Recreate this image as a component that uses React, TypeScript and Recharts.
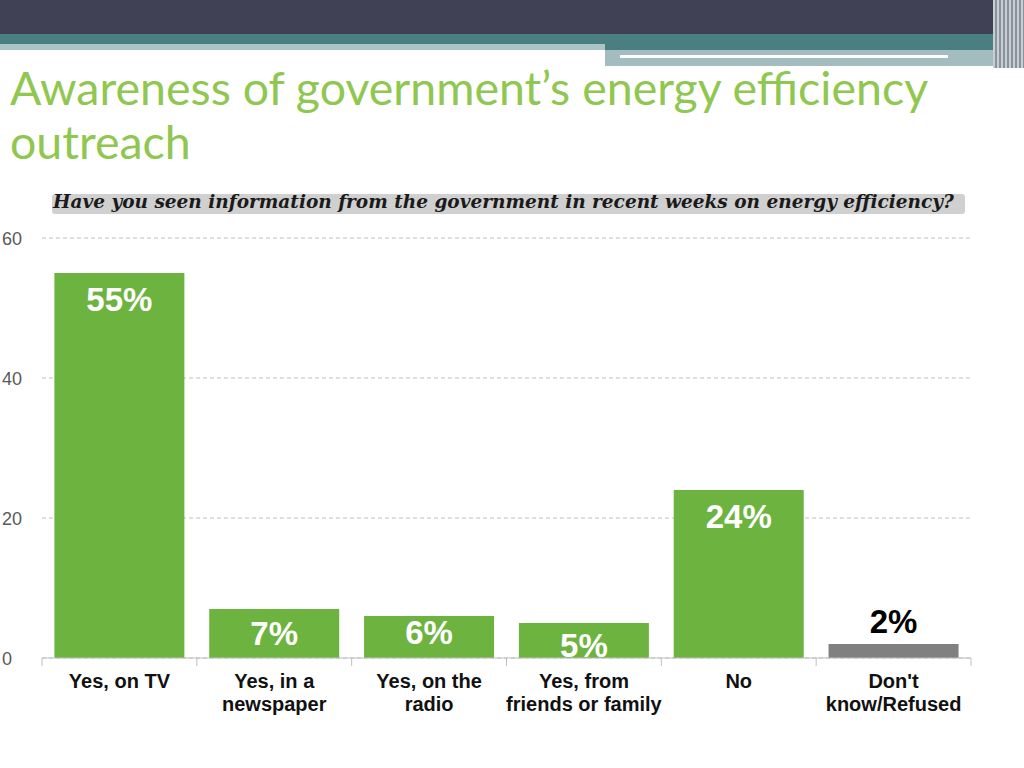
import { BarChart, Bar, XAxis, YAxis, CartesianGrid, Cell, LabelList } from "recharts";

const CATEGORIES = ["Yes, on TV", "Yes, in a\nnewspaper", "Yes, on the\nradio", "Yes, from\nfriends or family", "No", "Don't\nknow/Refused"];
const PERCENTS = [55, 7, 6, 5, 24, 2];
const Y_TICKS = [0, 20, 40, 60];

const DATA = CATEGORIES.map((name, i) => ({ name, value: PERCENTS[i] }));

const GREEN = "#6db33f";
const GRAY = "#808080";
const BAND = 929 / 6;

function XTick(props: any) {
  const { x, y, payload, index } = props;
  const lines = String(payload.value).split("\n");
  return (
    <g>
      <line x1={x - BAND / 2} x2={x - BAND / 2} y1={y - 8} y2={y} stroke="#bfbfbf" />
      {index === CATEGORIES.length - 1 && (
        <line x1={x + BAND / 2} x2={x + BAND / 2} y1={y - 8} y2={y} stroke="#bfbfbf" />
      )}
      <text x={x} y={y + 22} textAnchor="middle" fontFamily="Liberation Sans, Arial" fontWeight="bold" fontSize={20} fill="#111">
        {lines.map((l, i) => (
          <tspan key={i} x={x} dy={i === 0 ? 0 : 23}>{l}</tspan>
        ))}
      </text>
    </g>
  );
}

function YTick(props: any) {
  const { y, payload } = props;
  return (
    <text x={2} y={y + 7} textAnchor="start" fontFamily="Liberation Sans, Arial" fontSize={18} fill="#595959">
      {payload.value}
    </text>
  );
}

function ValueLabel(props: any) {
  const { x, y, width, value, index } = props;
  const cx = x + width / 2;
  const last = index === CATEGORIES.length - 1;
  const offsets = [26, 24, 16, 22, 26];
  const cy = last ? y - 23 : y + offsets[index];
  return (
    <text x={cx} y={cy + 12} textAnchor="middle" fontFamily="Liberation Sans, Arial" fontWeight="bold" fontSize={33} fill={last ? "#000" : "#fff"}>
      {value}%
    </text>
  );
}

export default function App() {
  return (
    <div style={{ position: "absolute", left: 0, top: 0, width: 1024, height: 768, background: "#fff", overflow: "hidden" }}>
      {/* header bands */}
      <div style={{ position: "absolute", left: 0, top: 0, width: 1024, height: 34, background: "#414155" }} />
      <div style={{ position: "absolute", left: 0, top: 34, width: 1024, height: 16, background: "#4a7f82" }} />
      <div style={{ position: "absolute", left: 0, top: 44, width: 605, height: 6, background: "#a9c5c6" }} />
      <div style={{ position: "absolute", left: 605, top: 50, width: 395, height: 16, background: "#a3bcc0" }} />
      <div style={{ position: "absolute", left: 620, top: 55, width: 328, height: 3, background: "#fff" }} />
      <div style={{ position: "absolute", left: 826, top: 66, width: 174, height: 2, background: "#fff" }} />
      <div style={{ position: "absolute", left: 993, top: 0, width: 31, height: 68, background: "repeating-linear-gradient(90deg, #c8ced3 0 2px, #8a949c 2px 4px)" }} />

      <div style={{ position: "absolute", left: 10, top: 60, width: 1000, fontFamily: "Lato, sans-serif", fontSize: 46.5, lineHeight: "54px", color: "#8fc750" }}>
        Awareness of government’s energy efficiency outreach
      </div>

      <div style={{ position: "absolute", left: 52, top: 194, width: 913, height: 20, background: "#d0d0d0", borderRadius: 3 }} />
      <div style={{ position: "absolute", left: 53, top: 190, fontFamily: "DejaVu Serif, serif", fontStyle: "italic", fontWeight: "bold", fontSize: 18.5, lineHeight: "24px", color: "#1a1a1a", whiteSpace: "nowrap" }}>
        Have you seen information from the government in recent weeks on energy efficiency?
      </div>

      <div style={{ position: "absolute", left: 0, top: 0 }}>
        <BarChart width={1024} height={768} data={DATA} margin={{ top: 238, right: 53, left: 0, bottom: 50 }} barCategoryGap="8%">
          <CartesianGrid vertical={false} strokeDasharray="4 3" stroke="#bfbfbf" />
          <XAxis dataKey="name" interval={0} height={60} tickLine={false} stroke="#bfbfbf" tick={<XTick />} />
          <YAxis domain={[0, 60]} ticks={Y_TICKS} width={42} axisLine={false} tickLine={false} tick={<YTick />} />
          <Bar dataKey="value" isAnimationActive={false}>
            {DATA.map((d, i) => (
              <Cell key={d.name} fill={i === DATA.length - 1 ? GRAY : GREEN} />
            ))}
            <LabelList dataKey="value" content={<ValueLabel />} />
          </Bar>
        </BarChart>
      </div>
    </div>
  );
}
